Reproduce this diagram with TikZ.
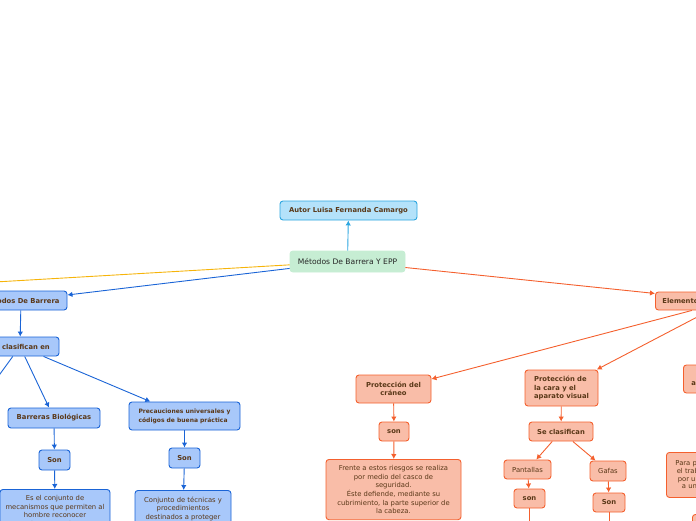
\documentclass[tikz,border=0pt]{standalone}
\usepackage{fontspec}
\setmainfont{DejaVu Sans}
\usetikzlibrary{calc, positioning, arrows.meta}
\definecolor{bluefill}{HTML}{A8C8FA}
\definecolor{blueline}{HTML}{1A64D6}
\definecolor{orangefill}{HTML}{F9BDA8}
\definecolor{orangeline}{HTML}{F4602E}
\definecolor{cyanfill}{HTML}{B4E2FA}
\definecolor{cyanline}{HTML}{2CA6E0}
\definecolor{greenfill}{HTML}{C6EDD3}
\definecolor{yellowline}{HTML}{F6B40A}
\definecolor{browntext}{HTML}{5A3818}

\begin{document}
\begin{tikzpicture}[x=1pt, y=-1pt, >={Latex[length=5pt,width=5.5pt]},
  box/.style={rounded corners=3pt, line width=0.9pt, inner sep=2pt, text=browntext,
    font=\fontsize{6.8}{8.6}\selectfont\bfseries},
  bluebox/.style={box, draw=blueline, fill=bluefill},
  orangebox/.style={box, draw=orangeline, fill=orangefill},
  plain/.style={font=\fontsize{6.8}{8.6}\selectfont},
  bluearrow/.style={->, line width=0.9pt, draw=blueline},
  orangearrow/.style={->, line width=0.9pt, draw=orangeline}]
  \useasboundingbox (0,0) rectangle (696,520);
  \clip (0,0) rectangle (696,520);

  % centre
  \node [box, draw=greenfill, fill=greenfill, text=black!85,
    font=\fontsize{7.6}{9}\selectfont, minimum width=115, minimum height=21]
    (main) at (347.5,261.5) {Métodos De Barrera Y EPP};
  \node [box, draw=cyanline, fill=cyanfill, minimum width=137, minimum height=19]
    (autor) at (348.5,210.5) {Autor Luisa Fernanda Camargo};
  \draw [->, line width=0.9pt, draw=cyanline] (main) -- (autor);

  % left branch
  \coordinate (lejos) at (-400,305);
  \draw [line width=0.9pt, draw=yellowline] (main) -- (lejos);
  \node [bluebox, minimum width=92, minimum height=19] (barrera) at (21,300.5) {Métodos De Barrera};
  \node [bluebox, minimum width=78, minimum height=19] (clasif) at (20,346.5) {Se clasifican en};
  \node [bluebox, minimum width=92, minimum height=20] (bio) at (54,418) {Barreras Biológicas};
  \node [bluebox, align=left, font=\fontsize{6}{9}\selectfont\bfseries,
    minimum width=111, minimum height=28] (precau) at (184.5,416)
    {Precauciones universales y\\códigos de buena práctica};
  \node [bluebox, minimum width=31, minimum height=20] (sonbio) at (54.5,460) {Son};
  \node [bluebox, minimum width=31, minimum height=20] (sonpre) at (184.5,458) {Son};
  \node [bluebox, plain, align=center, anchor=north, minimum width=110, inner xsep=4pt,
    inner ysep=6pt] (textbio) at (55,489)
    {Es el conjunto de\\mecanismos que permiten al\\hombre reconocer\\las sustancias};
  \node [bluebox, plain, align=center, anchor=north, minimum width=96, inner xsep=4pt,
    inner ysep=6.5pt] (textpre) at (183,490)
    {Conjunto de técnicas y\\procedimientos\\destinados a proteger\\al personal};
  \coordinate (otra) at (-40,429);

  \draw [bluearrow] (main) -- (barrera);
  \draw [bluearrow] (barrera) -- (clasif);
  \draw [bluearrow] (clasif) -- (otra);
  \draw [bluearrow] (clasif) -- (bio);
  \draw [bluearrow] (clasif) -- (precau);
  \draw [bluearrow] (bio) -- (sonbio);
  \draw [bluearrow] (precau) -- (sonpre);
  \draw [bluearrow] (sonbio) -- (textbio);
  \draw [bluearrow] (sonpre) -- (textpre);

  % right branch
  \node [orangebox, anchor=west, minimum height=18, inner xsep=7pt] (elem) at (655,301)
    {Elementos de protección personal};
  \node [orangebox, align=center, minimum width=75, minimum height=28] (craneo) at (393.5,389)
    {Protección del\\cráneo};
  \node [orangebox, minimum width=30, minimum height=19] (soncra) at (394,431.5) {son};
  \node [orangebox, plain, align=center, anchor=north, minimum width=135, inner xsep=4pt,
    inner ysep=6pt] (textcra) at (393.5,459)
    {Frente a estos riesgos se realiza\\por medio del casco de\\seguridad.\\Éste defiende, mediante su\\cubrimiento, la parte superior de\\la cabeza.};
  \node [orangebox, align=left, minimum width=73, minimum height=36] (cara) at (561.5,388)
    {Protección de\\la cara y el\\aparato visual};
  \node [orangebox, minimum width=64, minimum height=19] (seclas) at (561,431.5) {Se clasifican};
  \node [orangebox, plain, minimum width=47, minimum height=19] (pantalla) at (527.5,469.5) {Pantallas};
  \node [orangebox, plain, minimum width=36, minimum height=20] (gafas) at (608,471) {Gafas};
  \node [orangebox, minimum width=31, minimum height=19] (sonpan) at (529.5,498.5) {son};
  \node [orangebox, minimum width=32, minimum height=19] (songaf) at (609,502.5) {Son};
  \coordinate (bajopan) at (529.5,560);
  \coordinate (bajogaf) at (609,560);
  \node [orangebox, align=center, anchor=west, minimum height=28, inner xsep=8pt] (audit) at (683,379)
    {Protección del\\aparato auditivo};
  \node [orangebox, plain, align=center, anchor=north west, minimum height=45, inner xsep=9pt,
    font=\fontsize{6.8}{7.6}\selectfont] (para) at (666,452)
    {Para proteger\\el trabajador\\por un ruido\\a un nivel};
  \node [orangebox, anchor=north west, minimum width=30, minimum height=19] (sonpara) at (692,514) {son};

  \draw [orangearrow] (main) -- (elem);
  \draw [orangearrow] (elem) -- (craneo);
  \draw [orangearrow] (elem) -- (cara);
  \draw [orangearrow] (elem) -- (audit);
  \draw [orangearrow] (craneo) -- (soncra);
  \draw [orangearrow] (soncra) -- (textcra);
  \draw [orangearrow] (cara) -- (seclas);
  \draw [orangearrow] (seclas) -- (pantalla);
  \draw [orangearrow] (seclas) -- (gafas);
  \draw [orangearrow] (pantalla) -- (sonpan);
  \draw [orangearrow] (gafas) -- (songaf);
  \draw [orangearrow] (sonpan) -- (bajopan);
  \draw [orangearrow] (songaf) -- (bajogaf);
  \draw [orangearrow] (para) -- (sonpara);
\end{tikzpicture}
\end{document}
